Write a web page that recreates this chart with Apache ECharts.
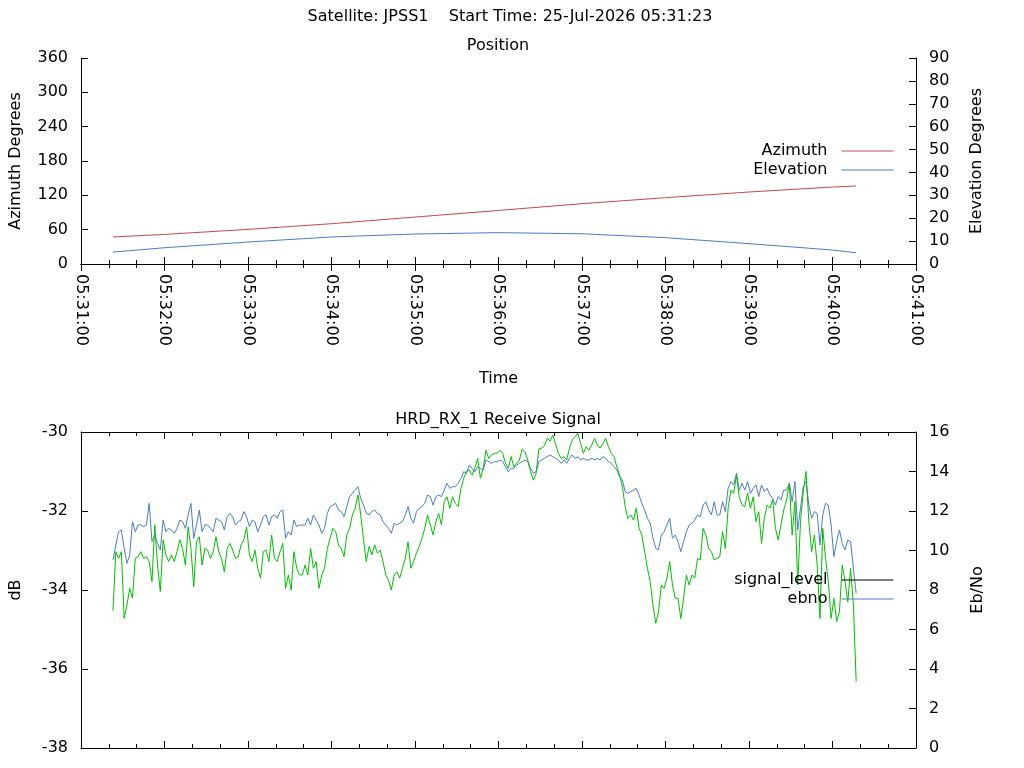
<!DOCTYPE html>
<html>
<head>
<meta charset="utf-8">
<title>JPSS1 pass</title>
<script src="https://cdn.jsdelivr.net/npm/echarts@6/dist/echarts.min.js"></script>
<style>
  html, body { margin: 0; padding: 0; background: #fff; }
  #chart { width: 1024px; height: 768px; }
</style>
</head>
<body>
<div id="chart"></div>
<script>
// position pass
var posTimes = ['05:31:23', '05:32:00', '05:33:00', '05:34:00', '05:35:00', '05:36:00',
  '05:37:00', '05:38:00', '05:39:00', '05:40:00', '05:40:17'];
var azimuth = [47.2, 51.7, 60.5, 70.4, 82.0, 93.6, 105.4, 115.9, 125.8, 134.5, 136.3];
var elevation = [5.2, 7.1, 9.6, 11.8, 13.1, 13.7, 13.2, 11.5, 8.9, 6.1, 4.9];

// receive signal, one sample every sigStep seconds from sigStart
var sigStart = '05:31:23';
var sigStep = 2;
var signalLevel = [
  -34.52,-33.03,-33.20,-33.03,-34.72,-34.38,-33.96,-34.21,-33.20,-33.16,
  -33.03,-33.20,-33.16,-33.28,-33.79,-32.35,-33.37,-34.04,-32.73,-33.11,
  -33.28,-33.11,-33.28,-33.03,-32.73,-32.95,-33.37,-32.40,-32.95,-33.92,
  -32.78,-32.65,-33.37,-32.95,-32.99,-33.20,-33.03,-32.65,-33.03,-33.20,
  -33.54,-32.95,-32.82,-32.99,-33.20,-33.16,-32.86,-32.73,-32.40,-33.11,
  -33.28,-32.99,-33.45,-33.70,-33.03,-32.99,-33.28,-32.61,-33.20,-33.28,
  -33.03,-32.82,-33.96,-33.62,-34.00,-33.03,-33.45,-33.62,
  -33.62,-33.37,-33.62,-32.95,-33.45,-33.28,-33.96,-33.62,-33.45,-32.95,
  -32.69,-32.44,-32.52,-32.86,-32.95,-33.16,-32.61,-32.44,-32.10,-31.93,
  -31.59,-32.10,-32.73,-33.28,-32.90,-33.11,-32.86,-33.07,-32.99,-33.28,
  -33.62,-33.75,-34.00,-33.62,-33.54,-33.70,-33.45,-33.20,-32.78,-33.45,
  -33.28,-33.07,-32.90,-32.69,-32.44,-32.10,-32.35,-32.61,-32.27,-32.06,
  -32.35,-31.76,-31.64,-31.93,-31.64,-31.81,-31.89,-31.43,-31.17,-31.00,
  -30.96,-31.09,-30.92,-30.67,-31.17,-30.92,-30.46,-30.67,-30.58,-30.54,
  -30.54,-30.46,-30.54,-30.79,-30.92,-30.62,-30.88,-30.79,-30.71,-30.43,
  -30.50,-30.71,-31.00,-31.22,-31.05,-30.43,-30.41,-30.35,-30.16,-30.23,
  -30.08,-30.29,-30.54,-30.67,-30.62,-30.71,-30.41,-30.20,-30.12,-30.03,
  -30.29,-30.54,-30.37,-30.46,-30.33,-30.16,-30.33,-30.41,-30.29,-30.16,
  -30.37,-30.54,-30.62,-30.88,-31.09,-31.38,-31.89,-32.19,-32.10,-32.23,
  -31.93,-32.44,-32.61,-33.03,-33.45,-33.79,-34.38,-34.84,-34.55,-33.87,
  -33.96,-33.70,-33.28,-33.87,-34.21,-34.21,-34.72,-34.21,-33.62,-33.87,
  -33.62,-33.70,-33.20,-33.24,-32.44,-32.61,-32.95,-33.03,-33.24,-33.20,
  -33.16,-32.52,-32.95,-31.93,-31.47,-31.55,-31.09,-31.64,-31.85,-31.89,
  -31.55,-31.93,-31.64,-32.27,-32.02,-32.82,-32.19,-31.85,-31.93,-31.72,
  -32.44,-32.73,-32.35,-31.97,-31.72,-31.30,-32.61,-31.76,-33.87,-32.27,
  -31.51,-31.00,-32.27,-33.03,-32.61,-33.37,-34.72,-32.44,-33.20,-33.79,
  -34.72,-34.21,-34.80,-34.55,-33.37,-33.79,-34.30,-33.45,-34.38,-36.32
];
var ebno = [
  9.52,10.28,10.95,11.04,10.11,9.35,9.77,11.46,10.95,11.29,
  11.29,11.21,11.29,12.39,10.45,10.78,10.36,10.03,11.54,10.95,
  11.12,11.04,10.87,11.12,11.54,11.46,11.12,11.80,12.39,10.62,
  11.29,12.05,10.95,11.29,11.29,11.12,10.95,11.63,11.54,11.46,
  11.04,11.71,11.88,11.71,11.29,11.46,11.54,11.97,11.71,11.21,
  11.54,11.46,10.95,11.29,11.71,11.80,11.29,11.71,11.80,11.63,
  11.97,12.05,10.62,10.95,10.78,11.54,11.21,11.29,
  11.29,11.29,11.63,11.29,11.80,11.54,11.29,10.87,11.12,11.88,
  12.22,12.30,12.39,12.05,11.97,11.71,12.22,12.73,12.89,13.06,
  13.23,12.64,12.30,11.88,11.80,11.97,12.05,11.88,11.80,11.46,
  11.29,11.12,10.87,11.38,11.29,11.38,11.46,11.80,12.22,11.63,
  11.38,11.97,12.14,12.22,12.39,12.81,12.73,12.30,12.73,12.81,
  12.73,13.06,13.40,13.15,13.23,13.23,13.40,13.65,13.99,13.91,
  14.33,14.16,13.99,14.24,14.16,14.08,14.58,14.50,14.41,14.50,
  14.50,14.58,14.50,14.24,13.99,14.16,14.16,14.33,14.41,14.50,
  14.58,14.50,14.16,13.91,13.99,14.50,14.58,14.67,14.75,14.84,
  14.75,14.67,14.58,14.41,14.58,14.41,14.67,14.84,14.67,14.75,
  14.58,14.67,14.58,14.58,14.67,14.58,14.67,14.58,14.75,14.67,
  14.50,14.41,14.24,14.08,13.74,13.57,12.98,12.89,12.98,13.06,
  13.15,12.81,12.39,12.05,11.63,11.38,10.62,10.11,10.03,10.78,
  10.95,11.29,11.63,10.62,10.78,10.45,9.94,10.45,10.95,11.29,
  11.38,11.54,11.80,11.71,12.30,12.47,12.05,11.80,12.47,11.80,
  11.80,12.47,11.97,13.15,13.49,13.32,13.91,13.06,13.40,13.06,
  13.49,12.89,13.15,13.32,12.73,13.32,12.98,13.15,12.81,12.64,
  12.30,12.73,12.56,13.06,13.06,13.40,12.47,13.49,11.04,12.14,
  13.23,13.49,12.30,11.63,11.97,11.88,10.28,11.80,12.39,12.30,
  11.29,9.69,10.45,11.04,10.36,10.03,10.53,10.45,9.10,7.83
];

// axis ranges
var timeMin = '05:31:00';
var timeMax = '05:41:00';

var FONT = 'DejaVu Sans';

function toSec(s) {
  var p = s.split(':');
  return (+p[0]) * 3600 + (+p[1]) * 60 + (+p[2]);
}
function pad(n) { return (n < 10 ? '0' : '') + n; }
function fmtTime(v) {
  v = Math.round(v);
  return pad(Math.floor(v / 3600)) + ':' + pad(Math.floor(v / 60) % 60) + ':' + pad(v % 60);
}
function zip(times, vals) {
  var out = [];
  for (var i = 0; i < vals.length; i++) out.push([toSec(times[i]), vals[i]]);
  return out;
}
function sampled(vals) {
  var t0 = toSec(sigStart);
  var out = [];
  for (var i = 0; i < vals.length; i++) out.push([t0 + i * sigStep, vals[i]]);
  return out;
}

var chart = echarts.init(document.getElementById('chart'));

var txt = { fontFamily: FONT, fontSize: 16, color: '#000' };
var blackLine = { show: true, lineStyle: { color: '#000', width: 1 } };
var tick = { show: true, inside: true, length: 7, lineStyle: { color: '#000' } };

function timeAxis(grid, pos, labels) {
  return {
    type: 'value', gridIndex: grid, position: pos,
    min: toSec(timeMin), max: toSec(timeMax), interval: 60,
    axisLine: blackLine, axisTick: tick,
    minorTick: { show: true, splitNumber: 3, length: 4, lineStyle: { color: '#000' } },
    splitLine: { show: false },
    axisLabel: labels ? {
      show: true, rotate: -90, margin: 10, formatter: fmtTime,
      fontFamily: FONT, fontSize: 16, color: '#000'
    } : { show: false }
  };
}
function valAxis(grid, pos, min, max, step, name, gap) {
  return {
    type: 'value', gridIndex: grid, position: pos,
    min: min, max: max, interval: step,
    axisLine: blackLine, axisTick: tick, splitLine: { show: false },
    axisLabel: { margin: 13, fontFamily: FONT, fontSize: 16, color: '#000' },
    name: name, nameLocation: 'middle', nameRotate: 90, nameGap: gap,
    nameTextStyle: txt
  };
}

var xa0 = timeAxis(0, 'bottom', true);
xa0.name = 'Time';
xa0.nameLocation = 'middle';
xa0.nameGap = 107;
xa0.nameTextStyle = txt;

var legendText = { fontFamily: FONT, fontSize: 16, color: '#000', padding: [0, 9, 0, 0] };

var option = {
  backgroundColor: '#fff',
  animation: false,
  title: [
    { text: 'Satellite: JPSS1    Start Time: 25-Jul-2026 05:31:23', left: 510, top: 9,
      textAlign: 'center', padding: 0, textStyle: { fontFamily: FONT, fontSize: 16, fontWeight: 'normal', color: '#000' } },
    { text: 'Position', left: 498, top: 38, textAlign: 'center', padding: 0,
      textStyle: { fontFamily: FONT, fontSize: 16, fontWeight: 'normal', color: '#000' } },
    { text: 'HRD_RX_1 Receive Signal', left: 498, top: 412, textAlign: 'center', padding: 0,
      textStyle: { fontFamily: FONT, fontSize: 16, fontWeight: 'normal', color: '#000' } }
  ],
  legend: [
    {
      orient: 'vertical', right: 130, top: 143, align: 'right', padding: 0,
      itemWidth: 52, itemHeight: 14, itemGap: 3,
      selectedMode: false,
      textStyle: legendText,
      data: [
        { name: 'Azimuth', itemStyle: { opacity: 0 }, lineStyle: { width: 1 } },
        { name: 'Elevation', itemStyle: { opacity: 0 }, lineStyle: { width: 1 } }
      ]
    },
    {
      orient: 'vertical', right: 130, top: 572, align: 'right', padding: 0,
      itemWidth: 52, itemHeight: 14, itemGap: 3,
      selectedMode: false,
      textStyle: legendText,
      data: [
        { name: 'signal_level', itemStyle: { opacity: 0 }, lineStyle: { color: '#000', width: 1 } },
        { name: 'ebno', itemStyle: { opacity: 0 }, lineStyle: { width: 1 } }
      ]
    }
  ],
  grid: [
    { left: 80, right: 108, top: 58, height: 206 },
    { left: 80, right: 108, top: 432, height: 316 }
  ],
  xAxis: [
    xa0,
    timeAxis(0, 'top', false),
    timeAxis(1, 'bottom', false),
    timeAxis(1, 'top', false)
  ],
  yAxis: [
    valAxis(0, 'left', 0, 360, 60, 'Azimuth Degrees', 57),
    valAxis(0, 'right', 0, 90, 10, 'Elevation Degrees', 53),
    valAxis(1, 'left', -38, -30, 2, 'dB', 57),
    valAxis(1, 'right', 0, 16, 2, 'Eb/No', 54)
  ],
  series: [
    {
      name: 'Azimuth', type: 'line', xAxisIndex: 0, yAxisIndex: 0,
      symbol: 'none', lineStyle: { color: '#c44a4a', width: 1 }, itemStyle: { color: '#c44a4a' },
      data: zip(posTimes, azimuth)
    },
    {
      name: 'Elevation', type: 'line', xAxisIndex: 0, yAxisIndex: 1,
      symbol: 'none', lineStyle: { color: '#4a7ec4', width: 1 }, itemStyle: { color: '#4a7ec4' },
      data: zip(posTimes, elevation)
    },
    {
      name: 'ebno', type: 'line', xAxisIndex: 2, yAxisIndex: 3,
      symbol: 'none', lineStyle: { color: '#4a7ec4', width: 1 }, itemStyle: { color: '#4a7ec4' },
      data: sampled(ebno)
    },
    {
      name: 'signal_level', type: 'line', xAxisIndex: 2, yAxisIndex: 2,
      symbol: 'none', lineStyle: { color: '#00c000', width: 1 }, itemStyle: { color: '#00c000' },
      data: sampled(signalLevel)
    }
  ]
};

chart.setOption(option);
</script>
</body>
</html>
